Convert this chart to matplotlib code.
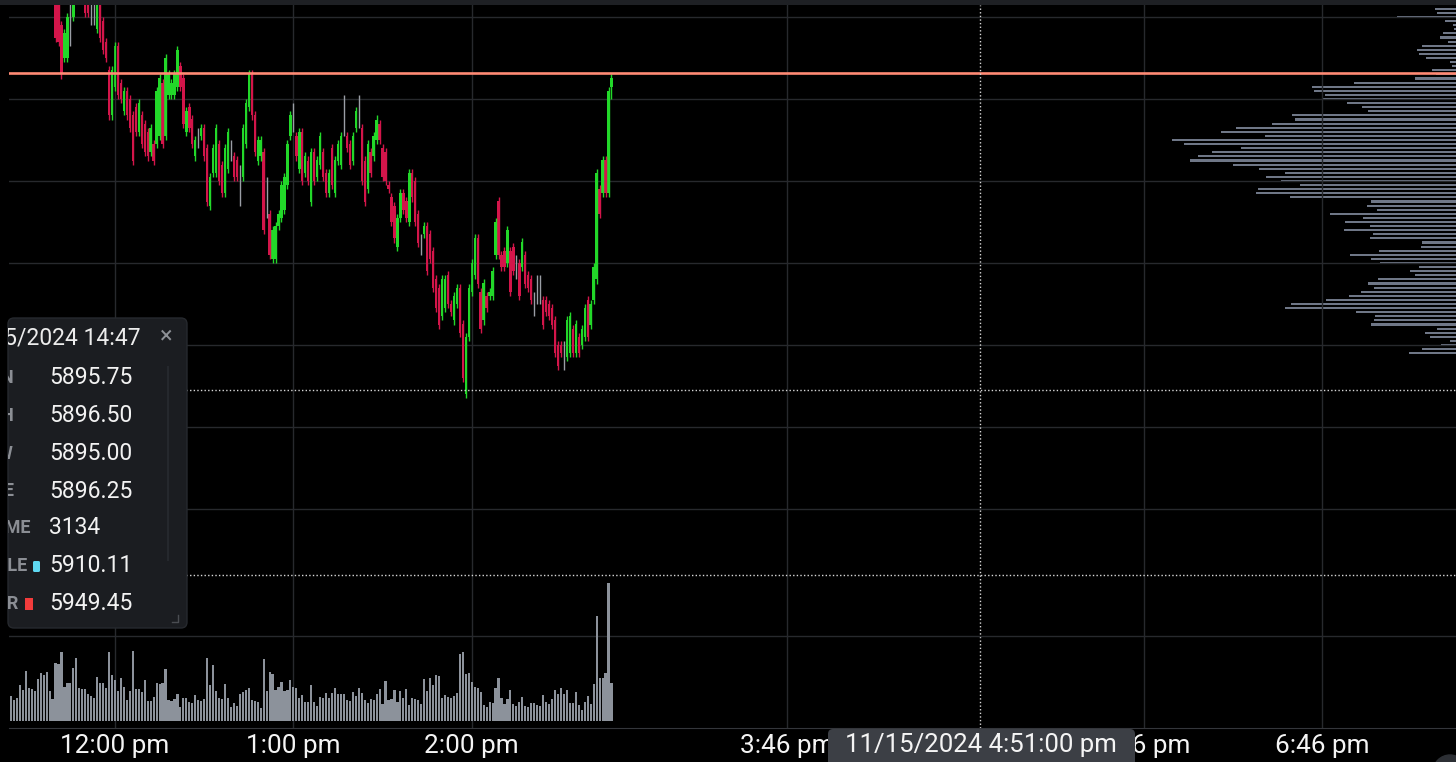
import numpy as np
import matplotlib
matplotlib.use("Agg")
import matplotlib.pyplot as plt
from matplotlib.patches import FancyBboxPatch, Rectangle, Circle
from matplotlib.transforms import Bbox, TransformedBbox

plt.rcParams['font.family'] = ['Roboto', 'DejaVu Sans']

# 1-minute bars, 11:25 -> 14:47 (minutes after midnight)
bar_minutes = np.arange(685, 888)

opens = [
    5902.5, 5902.0, 5901.75, 5902.25, 5903.0, 5902.5, 5901.5, 5902.0, 5902.5, 5903.5,
    5903.0, 5902.25, 5901.5, 5902.0, 5902.25, 5901.5, 5901.25, 5899.5, 5897.5, 5897.5,
    5899.75, 5900.0, 5901.25, 5903.25, 5903.0, 5901.5, 5901.25, 5900.5, 5900.25, 5899.25,
    5900.75, 5899.75, 5898.5, 5896.75, 5894.0, 5895.75, 5898.25, 5896.0, 5894.25, 5895.5,
    5895.0, 5894.0, 5894.5, 5893.0, 5894.0, 5893.5, 5893.0, 5891.75, 5892.25, 5892.25,
    5892.75, 5896.0, 5892.75, 5895.25, 5895.25, 5895.25, 5895.75, 5897.0, 5896.25, 5893.0,
    5894.5, 5893.75, 5891.5, 5892.5, 5892.75, 5893.25, 5892.0, 5888.5, 5890.5, 5890.5,
    5892.25, 5891.0, 5889.25, 5890.75, 5891.75, 5891.5, 5891.25, 5889.75, 5890.25, 5892.25,
    5894.5, 5896.5, 5894.0, 5891.25, 5891.5, 5891.75, 5889.0, 5888.0, 5885.25, 5885.25,
    5887.25, 5887.75, 5888.25, 5889.75, 5892.75, 5893.75, 5892.75, 5890.75, 5893.0, 5890.5,
    5891.25, 5888.75, 5891.75, 5890.25, 5891.0, 5891.75, 5890.5, 5889.25, 5892.0, 5889.25,
    5891.25, 5891.0, 5894.0, 5892.75, 5892.25, 5891.25, 5893.25, 5894.25, 5893.25, 5891.25,
    5889.5, 5891.75, 5891.5, 5892.5, 5893.5, 5892.0, 5891.75, 5889.75, 5889.0, 5888.5,
    5886.0, 5887.75, 5889.25, 5888.75, 5887.5, 5890.5, 5890.0, 5888.0, 5886.0, 5886.75,
    5887.25, 5886.75, 5885.75, 5884.0, 5883.5, 5881.75, 5882.25, 5884.25, 5882.5, 5881.5,
    5882.5, 5883.5, 5881.25, 5877.0, 5880.5, 5883.25, 5884.25, 5886.5, 5883.25, 5881.5,
    5883.0, 5883.0, 5883.0, 5885.5, 5888.75, 5885.5, 5885.75, 5885.0, 5885.75, 5886.0,
    5884.75, 5885.0, 5884.75, 5885.5, 5884.25, 5884.0, 5882.5, 5883.25, 5883.25, 5882.75,
    5882.75, 5882.5, 5882.25, 5881.5, 5880.0, 5880.0, 5879.5, 5879.25, 5879.5, 5881.0,
    5879.5, 5880.5, 5880.0, 5880.5, 5882.75, 5881.25, 5882.75, 5884.0, 5889.5, 5889.25,
    5891.25, 5889.25, 5895.75,
]
highs = [
    5902.75, 5902.25, 5902.5, 5903.0, 5903.25, 5902.75, 5902.25, 5902.75, 5903.5, 5903.75,
    5903.25, 5902.5, 5902.25, 5902.75, 5902.5, 5901.75, 5901.5, 5899.75, 5899.25, 5900.25,
    5901.25, 5901.25, 5903.0, 5903.5, 5903.25, 5901.75, 5901.5, 5901.5, 5901.25, 5901.25,
    5901.0, 5900.0, 5898.75, 5897.0, 5897.0, 5898.5, 5898.5, 5896.25, 5895.75, 5895.75,
    5895.25, 5894.25, 5894.75, 5895.0, 5894.25, 5893.75, 5893.25, 5893.5, 5892.5, 5895.75,
    5896.5, 5896.25, 5897.75, 5896.75, 5896.25, 5896.75, 5898.25, 5897.25, 5896.5, 5894.5,
    5894.75, 5894.0, 5892.75, 5893.25, 5893.5, 5893.5, 5892.25, 5890.5, 5892.25, 5893.5,
    5892.5, 5891.25, 5892.25, 5893.25, 5892.5, 5891.75, 5891.5, 5891.0, 5893.5, 5895.0,
    5896.75, 5896.75, 5894.25, 5892.75, 5892.75, 5892.0, 5890.25, 5888.25, 5887.25, 5887.5,
    5888.25, 5890.0, 5890.5, 5892.5, 5894.25, 5894.75, 5893.0, 5893.25, 5893.25, 5891.75,
    5891.5, 5892.0, 5892.0, 5891.5, 5893.0, 5892.0, 5890.75, 5890.75, 5892.25, 5891.5,
    5892.5, 5893.0, 5895.25, 5893.0, 5892.5, 5893.0, 5894.5, 5895.25, 5893.5, 5891.5,
    5892.5, 5892.0, 5893.0, 5894.0, 5893.75, 5892.25, 5892.0, 5890.0, 5889.25, 5888.75,
    5888.0, 5889.5, 5889.5, 5889.0, 5890.75, 5890.75, 5890.25, 5888.25, 5886.75, 5887.5,
    5887.5, 5887.0, 5886.0, 5884.25, 5883.75, 5884.25, 5884.25, 5884.5, 5882.75, 5883.25,
    5883.75, 5883.75, 5881.5, 5880.75, 5883.75, 5885.25, 5886.75, 5886.75, 5883.5, 5884.0,
    5883.25, 5883.5, 5884.75, 5887.75, 5889.0, 5885.75, 5886.0, 5887.25, 5886.0, 5886.25,
    5885.5, 5885.25, 5886.5, 5885.75, 5884.5, 5884.25, 5883.25, 5884.25, 5884.25, 5883.0,
    5883.0, 5882.75, 5882.5, 5881.75, 5880.25, 5880.25, 5880.25, 5881.75, 5882.0, 5881.25,
    5881.5, 5880.75, 5881.25, 5882.5, 5883.0, 5882.75, 5885.0, 5890.75, 5889.75, 5891.5,
    5891.5, 5895.75, 5896.5,
]
lows = [
    5901.75, 5901.25, 5901.5, 5902.0, 5902.25, 5901.5, 5901.25, 5901.75, 5902.25, 5902.75,
    5902.0, 5901.5, 5901.25, 5901.75, 5901.25, 5898.5, 5898.25, 5896.25, 5897.25, 5897.25,
    5898.25, 5899.75, 5901.0, 5901.25, 5901.25, 5900.0, 5900.0, 5899.5, 5899.5, 5899.0,
    5898.5, 5897.75, 5897.25, 5893.75, 5893.75, 5895.5, 5895.0, 5894.75, 5894.0, 5893.75,
    5893.0, 5891.0, 5892.75, 5892.75, 5892.0, 5891.5, 5891.25, 5891.5, 5891.0, 5892.0,
    5892.5, 5892.0, 5892.5, 5895.0, 5895.0, 5895.0, 5895.5, 5895.5, 5893.25, 5892.75,
    5893.0, 5892.0, 5891.25, 5892.0, 5892.5, 5891.25, 5888.5, 5888.25, 5890.25, 5890.25,
    5889.75, 5889.0, 5889.0, 5890.5, 5891.25, 5890.0, 5890.0, 5888.5, 5890.0, 5892.0,
    5894.25, 5893.75, 5891.5, 5891.0, 5891.25, 5886.75, 5887.75, 5885.25, 5885.0, 5885.0,
    5887.0, 5887.5, 5888.0, 5889.5, 5892.5, 5893.0, 5891.25, 5890.5, 5889.75, 5890.25,
    5889.75, 5888.5, 5889.75, 5890.0, 5890.75, 5890.0, 5889.0, 5889.0, 5889.5, 5889.0,
    5891.0, 5890.75, 5892.75, 5891.75, 5890.75, 5891.0, 5893.0, 5893.25, 5889.75, 5888.5,
    5889.25, 5890.25, 5891.25, 5892.25, 5892.25, 5890.0, 5889.75, 5889.25, 5887.25, 5886.25,
    5885.75, 5887.5, 5888.0, 5887.5, 5887.25, 5888.75, 5887.25, 5886.0, 5885.5, 5886.5,
    5884.25, 5885.0, 5883.25, 5882.0, 5881.0, 5881.5, 5882.0, 5882.25, 5881.75, 5881.25,
    5882.25, 5880.5, 5877.75, 5876.75, 5880.25, 5883.0, 5884.0, 5883.5, 5880.75, 5881.25,
    5882.0, 5882.75, 5882.75, 5885.25, 5885.25, 5884.5, 5884.5, 5884.75, 5883.0, 5884.25,
    5884.0, 5882.75, 5884.5, 5883.5, 5883.25, 5882.5, 5881.75, 5882.5, 5882.5, 5881.0,
    5881.75, 5881.5, 5881.0, 5879.25, 5878.5, 5879.25, 5878.5, 5879.0, 5879.25, 5879.25,
    5879.25, 5879.25, 5879.75, 5880.25, 5880.25, 5881.0, 5882.5, 5883.75, 5887.75, 5889.0,
    5889.0, 5889.0, 5895.0,
]
closes = [
    5902.0, 5901.5, 5902.25, 5902.75, 5902.5, 5901.75, 5902.0, 5902.5, 5903.25, 5903.0,
    5902.25, 5901.75, 5902.0, 5902.5, 5901.5, 5898.75, 5898.5, 5896.5, 5899.0, 5900.0,
    5899.75, 5901.0, 5902.75, 5901.5, 5901.5, 5900.25, 5900.25, 5900.5, 5900.25, 5901.0,
    5898.75, 5898.0, 5897.5, 5894.0, 5896.75, 5898.25, 5895.25, 5895.0, 5895.5, 5894.0,
    5893.25, 5891.25, 5893.0, 5894.75, 5892.25, 5891.75, 5891.5, 5893.25, 5891.25, 5895.5,
    5896.25, 5892.25, 5897.5, 5896.5, 5896.0, 5896.5, 5898.0, 5895.75, 5893.5, 5894.25,
    5893.25, 5892.25, 5892.5, 5892.5, 5893.25, 5891.5, 5888.75, 5890.25, 5892.0, 5893.25,
    5890.0, 5889.25, 5892.0, 5893.0, 5891.75, 5890.25, 5890.25, 5889.75, 5893.25, 5894.75,
    5896.5, 5894.0, 5891.75, 5892.5, 5892.5, 5887.0, 5889.0, 5885.5, 5887.0, 5887.25,
    5888.0, 5889.75, 5890.25, 5892.25, 5894.0, 5893.75, 5891.5, 5893.0, 5890.0, 5891.5,
    5890.0, 5891.75, 5890.0, 5891.25, 5892.75, 5890.25, 5889.25, 5890.5, 5889.75, 5891.25,
    5892.25, 5892.75, 5894.0, 5892.0, 5891.0, 5892.75, 5894.25, 5894.25, 5890.0, 5888.75,
    5892.25, 5890.5, 5892.75, 5893.75, 5892.5, 5890.25, 5890.0, 5889.5, 5887.5, 5886.5,
    5887.75, 5889.25, 5888.25, 5887.75, 5890.5, 5889.0, 5887.5, 5886.25, 5886.0, 5887.25,
    5884.5, 5885.25, 5883.5, 5882.25, 5881.25, 5884.0, 5884.0, 5882.5, 5882.0, 5883.0,
    5883.5, 5880.75, 5878.0, 5880.5, 5883.5, 5885.0, 5886.5, 5883.75, 5881.0, 5883.75,
    5882.25, 5883.25, 5884.5, 5887.5, 5885.5, 5884.75, 5884.75, 5887.0, 5883.25, 5884.5,
    5884.75, 5883.0, 5886.25, 5883.75, 5883.5, 5882.75, 5882.5, 5883.25, 5883.25, 5881.25,
    5882.0, 5881.75, 5881.25, 5879.5, 5878.75, 5879.5, 5879.5, 5881.5, 5881.75, 5879.5,
    5881.25, 5879.5, 5881.0, 5882.25, 5880.5, 5882.5, 5884.75, 5890.5, 5888.0, 5891.25,
    5889.25, 5895.5, 5896.25,
]
volumes = [
    2063, 1733, 1898, 2970, 2558, 4125, 2723, 2640, 2475, 3465,
    3960, 3795, 4043, 2475, 1815, 4785, 4703, 5693, 2805, 3135,
    3135, 4373, 5198, 2723, 2640, 2640, 2228, 2063, 1898, 3630,
    3135, 3135, 2723, 5693, 3795, 3383, 2475, 3548, 2805, 1733,
    2475, 5775, 2640, 2640, 2393, 3383, 1650, 1650, 1980, 3135,
    3053, 3135, 4290, 1733, 1650, 1815, 2228, 1155, 1898, 1898,
    1568, 1485, 2145, 1733, 1650, 1815, 5198, 2970, 4620, 2475,
    1898, 1815, 3053, 1898, 1155, 1485, 1238, 2228, 2393, 2558,
    2723, 1733, 1650, 1568, 1073, 5115, 2475, 4043, 3878, 2558,
    2805, 3218, 2475, 2558, 3383, 2805, 2723, 1898, 2145, 1568,
    1568, 2970, 1568, 1238, 1980, 1898, 2310, 1898, 2310, 2723,
    2228, 2228, 2228, 1733, 1650, 2393, 2063, 2723, 2310, 1733,
    1485, 1815, 1733, 2228, 2640, 1403, 3300, 1733, 1815, 2558,
    1568, 2475, 1898, 2640, 1320, 1898, 1815, 1733, 1403, 3465,
    2475, 3548, 2970, 3795, 3713, 1898, 2145, 1980, 1898, 2063,
    2310, 5528, 5693, 3878, 3960, 3218, 2805, 2723, 2393, 1320,
    1155, 1568, 1485, 2723, 3548, 1898, 1403, 1815, 2558, 1403,
    1238, 1568, 1980, 1238, 1155, 1485, 1485, 1320, 1238, 2145,
    1568, 1403, 1815, 2558, 2228, 2723, 2228, 2558, 1485, 1485,
    2393, 1320, 908, 1568, 2063, 1403, 3053, 8663, 3548, 3548,
    3960, 11385, 3134,
]

# volume-at-price profile, 0.25 ticks from 5900.50 down to 5879.50
profile_prices = np.arange(5900.5, 5879.25, -0.25)
profile_vol = [
    210, 190, 590, 110, 30, 20, 130, 160, 80, 340,
    390, 370, 300, 60, 40, 240, 200, 410, 1020, 1440,
    1420, 1310, 1340, 1090, 940, 880, 1640, 1610, 1840, 2200,
    2350, 1910, 2840, 2720, 2150, 2440, 2580, 2660, 2230, 1970,
    1710, 1900, 1750, 1560, 1980, 2000, 1660, 850, 890, 790,
    1260, 930, 1110, 860, 1120, 830, 860, 340, 350, 770,
    1060, 850, 760, 370, 460, 410, 780, 880, 820, 950,
    1070, 1300, 1650, 1710, 1000, 810, 820, 850, 190, 310,
    260, 60, 150, 340, 470,
]

tick_minutes = [720, 780, 840, 946, 1066, 1126]
tick_labels = ['12:00 pm', '1:00 pm', '2:00 pm', '3:46 pm', '5:46 pm', '6:46 pm']
price_grid = [5900, 5895, 5890, 5885, 5880, 5875, 5870]
ref_price = 5896.6
cross_minute = 1011
cross_prices = [5877.25, 5866.0]

row_labels = ['OPEN', 'HIGH', 'LOW', 'CLOSE', 'VOLUME', 'MIDDLE', 'UPPER']
row_values = ['5895.75', '5896.50', '5895.00', '5896.25', '3134', '5910.11', '5949.45']

W, H = 1456, 762
PX_PER_PT = 16.4
GREEN, RED, GREY = '#22d829', '#d3154a', '#9a9ea5'
GRID = '#27292d'

o = np.array(opens); c = np.array(closes)
hi = np.array(highs); lo = np.array(lows)
colors = np.where(c > o, GREEN, np.where(c < o, RED, GREY))

fig = plt.figure(figsize=(W / 100, H / 100), dpi=100, facecolor='black')

# chart area from x=9px to right edge, y=5px to 728px
rect = [9 / W, 1 - 728 / H, (W - 9) / W, (728 - 5) / H]
xmin = 720 + (9 - 115) / 2.973
xmax = 720 + (W - 115) / 2.973
ytop = 5900 + (17 - 5) / PX_PER_PT
ybot = 5900 - (728 - 17) / PX_PER_PT

# bottom layer: horizontal grid + volume profile
pax = fig.add_axes(rect, zorder=0)
pax.set_facecolor('black')
pax.set_ylim(ybot, ytop)
pax.set_xlim((W - 9) * 10, 0)
for p in price_grid:
    pax.axhline(p, color=GRID, lw=1)
pax.barh(profile_prices, profile_vol, height=0.13, color='#6f7787')
pax.axis('off')

# price chart
ax = fig.add_axes(rect, zorder=1)
ax.patch.set_alpha(0)
ax.set_xlim(xmin, xmax)
ax.set_ylim(ybot, ytop)
for m in tick_minutes:
    ax.axvline(m, color=GRID, lw=1)
ax.vlines(bar_minutes, lo, hi, colors=colors, lw=1.0)
ax.bar(bar_minutes, np.abs(c - o), bottom=np.minimum(o, c), width=0.8,
       color=colors, linewidth=0)
ax.axhline(ref_price, color='#ff8a74', lw=1.9)
dot = dict(color='#d8d8d8', lw=1, linestyle=(0, (1, 1.6)))
ax.axvline(cross_minute, **dot)
for p in cross_prices:
    ax.axhline(p, **dot)
ax.set_xticks(tick_minutes, tick_labels)
ax.set_yticks([])
ax.tick_params(axis='x', length=0, pad=4, labelsize=18.8, colors='#f4f4f4')
for s in ['top', 'left', 'right']:
    ax.spines[s].set_visible(False)
ax.spines['bottom'].set_color('#34363b')

# volume pane
vax = fig.add_axes([9 / W, 1 - 721 / H, (W - 9) / W, 138 / H], zorder=2)
vax.patch.set_alpha(0)
vax.set_xlim(xmin, xmax)
vax.set_ylim(0, max(volumes))
vax.axhline(7000, color=GRID, lw=1, zorder=0)
vax.bar(bar_minutes, volumes, width=0.72, color='#8c929b', linewidth=0)
vax.axis('off')

# overlay in pixel coordinates: header band, tooltip, crosshair label
ov = fig.add_axes([0, 0, 1, 1], zorder=10)
ov.set_xlim(0, W)
ov.set_ylim(H, 0)
ov.axis('off')
ov.patch.set_alpha(0)
ov.add_patch(Rectangle((0, 0), W, 5, color='#1e2024', lw=0))

ov.add_patch(FancyBboxPatch((8, 318), 179, 310, boxstyle='round,pad=0,rounding_size=6',
                            facecolor='#1b1d21', edgecolor='#26292e', lw=1))
# the tooltip slides off the left edge of the chart, its text is cut at x=8
panel_clip = TransformedBbox(Bbox([[8, 318], [187, 628]]), ov.transData)


def panel_text(x, y, s, **kw):
    t = ov.text(x, y, s, va='center', clip_on=True, **kw)
    t.set_clip_box(panel_clip)
    return t


panel_text(141, 338, '11/15/2024 14:47', ha='right', fontsize=16.5, color='#ececec')
panel_text(166, 336, '\u00d7', ha='center', fontsize=17, color='#8d9096')
ov.plot([168, 168], [367, 560], color='#25282d', lw=1.5)
ov.plot([172, 178, 178], [622, 622, 615], color='#4a4d52', lw=1)

row_y = [378, 416, 454, 491, 528, 566, 604]
label_right = [14, 15, 14, 14, 31, 28, 18]
for lab, val, y, xr in zip(row_labels, row_values, row_y, label_right):
    panel_text(xr, y, lab, ha='right', fontsize=13, color='#8b8e94', fontweight='bold')
    panel_text(49, y, val, ha='left', fontsize=16.5, color='#f2f2f2')
ov.add_patch(FancyBboxPatch((33, 561), 7, 11, boxstyle='round,pad=0,rounding_size=1.5',
                            facecolor='#5fd9f2', lw=0))
ov.add_patch(Rectangle((25, 598), 8, 12, facecolor='#f23c3c', lw=0))

ov.add_patch(FancyBboxPatch((828, 729), 307, 40, boxstyle='round,pad=0,rounding_size=5',
                            facecolor='#3c3f45', lw=0))
ov.text(981, 745, '11/15/2024 4:51:00 pm', ha='center', va='center', fontsize=18.5, color='#f4f4f4')
ov.add_patch(Circle((1450, 772), 17, color='#2c2f34'))

fig.savefig('out.png', dpi=100, facecolor='black')
